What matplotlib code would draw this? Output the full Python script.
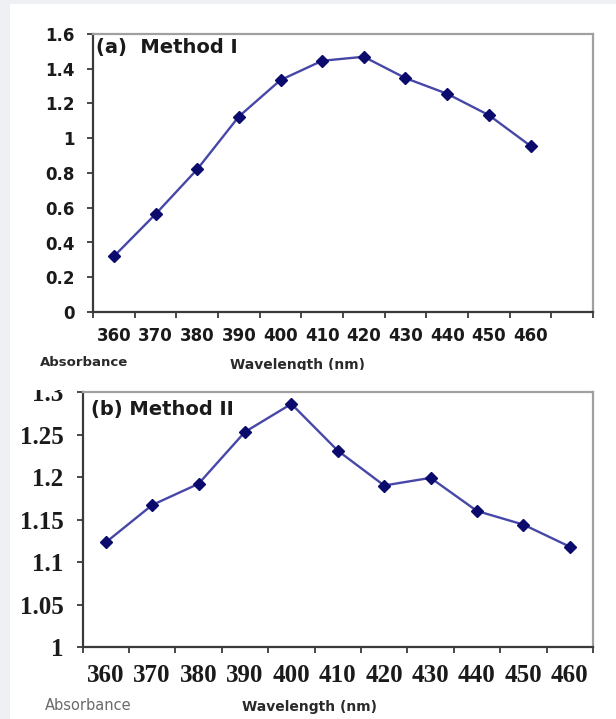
import matplotlib
matplotlib.use("Agg")
import matplotlib.pyplot as plt
from matplotlib.patches import Rectangle
from matplotlib.ticker import FixedLocator, NullFormatter

# ---------------- data ----------------
wavelengths = [360, 370, 380, 390, 400, 410, 420, 430, 440, 450, 460]
absorb_method1 = [0.32, 0.563, 0.821, 1.125, 1.335, 1.446, 1.469, 1.346, 1.256, 1.133, 0.956]
absorb_method2 = [1.123, 1.167, 1.192, 1.253, 1.286, 1.231, 1.190, 1.199, 1.160, 1.144, 1.118]
yticks_a = [0, 0.2, 0.4, 0.6, 0.8, 1.0, 1.2, 1.4, 1.6]
yticklabels_a = ["0", "0.2", "0.4", "0.6", "0.8", "1", "1.2", "1.4", "1.6"]
yticks_b = [1.0, 1.05, 1.1, 1.15, 1.2, 1.25, 1.3]
yticklabels_b = ["1", "1.05", "1.1", "1.15", "1.2", "1.25", "1.3"]
title_a = "(a)  Method I"
title_b = "(b) Method II"
ylabel_text = "Absorbance"
xlabel_text = "Wavelength (nm)"

W, H = 616, 719
fig = plt.figure(figsize=(W / 100, H / 100), dpi=100)
fig.patch.set_facecolor("white")

def fx(px):
    return px / W

def fy(py):
    return 1 - py / H

# light grey page strips (left and top)
fig.patches.append(Rectangle((0, 0), fx(10), 1, transform=fig.transFigure,
                             facecolor="#eef0f3", edgecolor="none", zorder=-5))
fig.patches.append(Rectangle((0, fy(4)), 1, 4 / H, transform=fig.transFigure,
                             facecolor="#eef0f3", edgecolor="none", zorder=-5))

line_color = "#4747a8"
marker_color = "#0b0b6e"
dark = "#3a3a3a"
light = "#a0a0a0"

def style_axes(ax):
    for s in ["left", "bottom"]:
        ax.spines[s].set_color(dark)
        ax.spines[s].set_linewidth(1.6)
    for s in ["top", "right"]:
        ax.spines[s].set_color(light)
        ax.spines[s].set_linewidth(1.6)

# ---------------- panel (a) ----------------
ax1 = fig.add_axes([fx(93), fy(312), fx(593 - 93), (312 - 34) / H])
n_slots_a = len(wavelengths) + 1
xa = list(range(len(wavelengths)))
ax1.plot(xa, absorb_method1, color=line_color, lw=1.7, marker="D", ms=5.8,
         mfc=marker_color, mec=marker_color, zorder=3)
ax1.set_xlim(-0.5, n_slots_a - 0.5)
ax1.set_ylim(0, 1.6)
ax1.set_yticks(yticks_a)
ax1.set_yticklabels(yticklabels_a)
ax1.xaxis.set_major_locator(FixedLocator([i - 0.5 for i in range(n_slots_a + 1)]))
ax1.xaxis.set_major_formatter(NullFormatter())
ax1.set_xticks(xa, minor=True)
ax1.set_xticklabels([str(w) for w in wavelengths], minor=True)
ax1.tick_params(axis="x", which="major", direction="out", length=4.5, width=1.3, color=dark)
ax1.tick_params(axis="x", which="minor", length=0, pad=11)
ax1.tick_params(axis="y", direction="out", length=4.5, width=1.3, color=dark, pad=9)
for lab in ax1.get_xticklabels(minor=True) + ax1.get_yticklabels():
    lab.set_fontfamily("DejaVu Sans")
    lab.set_fontweight("bold")
    lab.set_fontsize(12)
    lab.set_color("#1a1a1a")
style_axes(ax1)
ax1.text(0.006, 0.953, title_a, transform=ax1.transAxes, ha="left", va="center",
         fontsize=14, fontweight="bold", family="DejaVu Sans", color="#1a1a1a")

fig.text(fx(84), fy(363), ylabel_text, ha="center", va="center", fontsize=9.5,
         fontweight="bold", family="DejaVu Sans", color="#2a2a2a")
fig.text(fx(297), fy(365), xlabel_text, ha="center", va="center", fontsize=10,
         fontweight="bold", family="DejaVu Sans", color="#2a2a2a")

# ---------------- panel (b) ----------------
ax2 = fig.add_axes([fx(82.5), fy(647), fx(593 - 82.5), (647 - 392) / H])
xb = list(range(len(wavelengths)))
ax2.plot(xb, absorb_method2, color=line_color, lw=1.7, marker="D", ms=5.8,
         mfc=marker_color, mec=marker_color, zorder=3)
ax2.set_xlim(-0.5, len(wavelengths) - 0.5)
ax2.set_ylim(1.0, 1.3)
ax2.set_yticks(yticks_b)
ax2.set_yticklabels(yticklabels_b)
ax2.xaxis.set_major_locator(FixedLocator([i - 0.5 for i in range(len(wavelengths) + 1)]))
ax2.xaxis.set_major_formatter(NullFormatter())
ax2.set_xticks(xb, minor=True)
ax2.set_xticklabels([str(w) for w in wavelengths], minor=True)
ax2.tick_params(axis="x", which="major", direction="out", length=4.5, width=1.3, color=dark)
ax2.tick_params(axis="x", which="minor", length=0, pad=12)
ax2.tick_params(axis="y", direction="out", length=4.5, width=1.3, color=dark, pad=9)
for lab in ax2.get_xticklabels(minor=True) + ax2.get_yticklabels():
    lab.set_fontfamily("Liberation Serif")
    lab.set_fontweight("bold")
    lab.set_fontsize(18)
    lab.set_color("#1a1a1a")
style_axes(ax2)
ax2.text(0.017, 0.93, title_b, transform=ax2.transAxes, ha="left", va="center",
         fontsize=14, fontweight="bold", family="DejaVu Sans", color="#1a1a1a")

fig.text(fx(88), fy(705), ylabel_text, ha="center", va="center", fontsize=10.5,
         family="DejaVu Sans", color="#6a6a6a")
fig.text(fx(310), fy(707), xlabel_text, ha="center", va="center", fontsize=10,
         fontweight="bold", family="DejaVu Sans", color="#2a2a2a")

# white gap between the two cropped panels (hides cut-off text edges)
fig.patches.append(Rectangle((fx(10), fy(390)), 1, 20 / H, transform=fig.transFigure,
                             facecolor="white", edgecolor="none", zorder=10))

fig.savefig("out.png", dpi=100, facecolor="white")
